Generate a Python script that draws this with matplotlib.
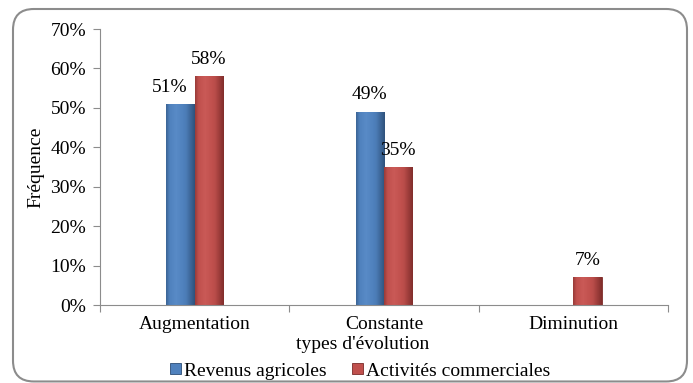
import matplotlib
matplotlib.use("Agg")
import matplotlib.pyplot as plt
import numpy as np
from matplotlib.patches import FancyBboxPatch

categories = ["Augmentation", "Constante", "Diminution"]
revenus = [51, 49, 0]
activites = [58, 35, 7]
series_names = ["Revenus agricoles", "Activités commerciales"]
yticks = [0, 10, 20, 30, 40, 50, 60, 70]

plt.rcParams['font.family'] = ['Liberation Serif', 'DejaVu Serif']
FS = 14

fig = plt.figure(figsize=(6.93, 3.83), dpi=100)
border = FancyBboxPatch((13/693, 0.004), 674/693, 1 - 0.004 - 9/383,
                        boxstyle="round,pad=0,rounding_size=0.03",
                        transform=fig.transFigure, facecolor="white",
                        edgecolor="#8c8c8c", linewidth=1.5, mutation_aspect=693/383,
                        zorder=-10)
fig.patches.append(border)

ax = fig.add_axes([100/693, 1 - 305/383, 568/693, 276/383])
ax.set_facecolor("none")

x = np.arange(len(categories))
w = 0.15
colors = [("#4F81BD", "#2c4d75"), ("#C0504D", "#7a2a28")]
bars1 = ax.bar(x - w/2, revenus, w, color=colors[0][0], edgecolor=colors[0][1], linewidth=0.6, label=series_names[0])
bars2 = ax.bar(x + w/2, activites, w, color=colors[1][0], edgecolor=colors[1][1], linewidth=0.6, label=series_names[1])

def shade(bars, base, dark):
    from matplotlib.colors import to_rgb
    b = np.array(to_rgb(base)); d = np.array(to_rgb(dark))
    light = np.clip(b + 0.15, 0, 1)
    t = np.linspace(0, 1, 64)
    prof = np.interp(t, [0, 0.12, 0.35, 0.7, 1.0], [0.55, 0.0, -0.25, 0.1, 0.9])
    img = np.zeros((1, 64, 3))
    for i, p in enumerate(prof):
        if p >= 0:
            img[0, i] = b * (1 - p) + d * p
        else:
            img[0, i] = b * (1 + p) + light * (-p)
    for bar in bars:
        if bar.get_height() <= 0:
            continue
        x0, y0 = bar.get_x(), bar.get_y()
        im = ax.imshow(img, extent=[x0, x0 + bar.get_width(), y0, y0 + bar.get_height()],
                       aspect='auto', zorder=bar.get_zorder() + 0.1, interpolation='bilinear')
        im.set_clip_path(bar)

shade(bars1, *colors[0])
shade(bars2, *colors[1])

for i, (bar, v) in enumerate(zip(bars1, revenus)):
    if v > 0:
        dx = -8 if activites[i] > v else 0
        ax.annotate(f"{v}%", (bar.get_x() + bar.get_width()/2, v), xytext=(dx, 6),
                    textcoords="offset points", ha="center", va="bottom", fontsize=FS)
for bar, v in zip(bars2, activites):
    if v > 0:
        ax.annotate(f"{v}%", (bar.get_x() + bar.get_width()/2, v), xytext=(0, 6),
                    textcoords="offset points", ha="center", va="bottom", fontsize=FS)

ax.set_xlim(-0.5, 2.5)
ax.set_ylim(0, 70)
ax.set_yticks(yticks)
ax.set_yticklabels([f"{t}%" for t in yticks], fontsize=FS)
ax.set_xticks([-0.5, 0.5, 1.5, 2.5])
ax.set_xticklabels([])
ax.set_xticks(x, minor=True)
ax.set_xticklabels(categories, minor=True, fontsize=FS)
ax.tick_params(axis='x', which='minor', length=0, pad=8)
ax.tick_params(axis='x', which='major', length=5, color="#8c8c8c", direction='out')
ax.tick_params(axis='y', length=5, color="#8c8c8c", pad=5)
for s in ["top", "right"]:
    ax.spines[s].set_visible(False)
for s in ["left", "bottom"]:
    ax.spines[s].set_color("#8c8c8c")
ax.set_ylabel("Fréquence", fontsize=FS, labelpad=4)
ax.set_xlabel("types d'évolution", fontsize=FS)
ax.xaxis.set_label_coords(0.463, -0.112, transform=ax.transAxes)
ax.xaxis.label.set_va("top")

ax.legend(loc="lower center", bbox_to_anchor=(0.458, -0.27), ncol=2, frameon=False,
          fontsize=FS, handlelength=0.55, handleheight=0.55, handletextpad=0.15, columnspacing=1.3,
          borderaxespad=0, borderpad=0)

fig.savefig("out.png", dpi=100)
